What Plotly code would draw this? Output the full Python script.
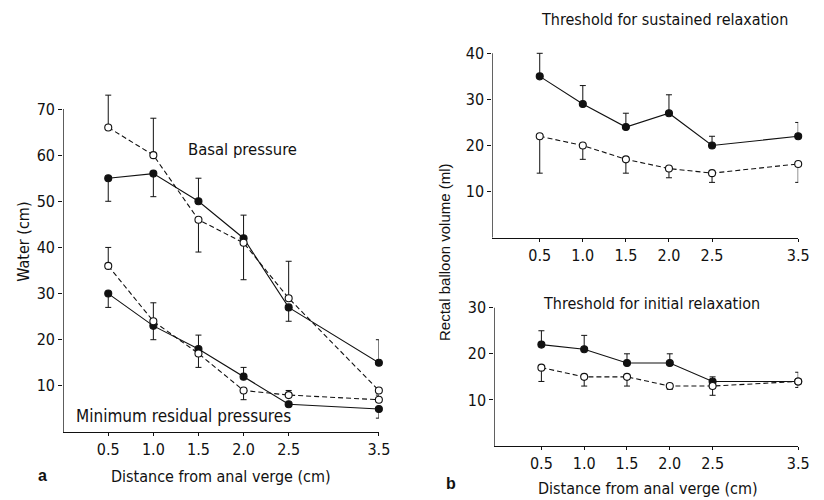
import plotly.graph_objects as go

# ---------------- data ----------------
x_pos = [0.5, 1.0, 1.5, 2.0, 2.5, 3.5]
x_ticklabels = ["0.5", "1.0", "1.5", "2.0", "2.5", "3.5"]

# Panel a - basal pressure
basal_open = [66, 60, 46, 41, 29, 9]
basal_open_up = [7, 8, 0, 0, 8, 0]
basal_open_down = [0, 0, 7, 8, 0, 0]
basal_filled = [55, 56, 50, 42, 27, 15]
basal_filled_up = [0, 0, 5, 5, 0, 5]
basal_filled_down = [5, 5, 0, 0, 3, 0]

# Panel a - minimum residual pressures
resid_open = [36, 24, 17, 9, 8, 7]
resid_open_up = [4, 4, 0, 0, 1, 1]
resid_open_down = [0, 0, 3, 2, 0, 0]
resid_filled = [30, 23, 18, 12, 6, 5]
resid_filled_up = [0, 0, 3, 2, 0, 0]
resid_filled_down = [3, 3, 0, 0, 0, 2]

# Panel b (top) - threshold for sustained relaxation
sust_filled = [35, 29, 24, 27, 20, 22]
sust_filled_up = [5, 4, 3, 4, 2, 3]
sust_open = [22, 20, 17, 15, 14, 16]
sust_open_down = [8, 3, 3, 2, 2, 4]
sig_x = [0.5, 1.0, 1.5, 2.0]

# Panel b (bottom) - threshold for initial relaxation
init_filled = [22, 21, 18, 18, 14, 14]
init_filled_up = [3, 3, 2, 2, 1, 2]
init_open = [17, 15, 15, 13, 13, 14]
init_open_down = [3, 2, 2, 0.7, 2, 1.3]

# ---------------- style ----------------
FONT = "Liberation Sans Narrow, DejaVu Sans Condensed, Arial Narrow, sans-serif"
SANS = "Liberation Sans, Arial, sans-serif"
BLACK = "#111111"

fig = go.Figure()


def add_series(x, y, up, down, filled, xa, ya):
    zeros = [0] * len(y)
    fig.add_trace(go.Scatter(
        x=x, y=y, xaxis=xa, yaxis=ya, mode="lines+markers",
        line=dict(color=BLACK, width=1.1, dash="solid" if filled else "5px,3px"),
        marker=dict(symbol="circle", size=7,
                    color=BLACK if filled else "white",
                    line=dict(color=BLACK, width=1.1)),
        error_y=dict(type="data", symmetric=False,
                     array=up if up is not None else zeros,
                     arrayminus=down if down is not None else zeros,
                     color=BLACK, thickness=1, width=3),
        cliponaxis=False, showlegend=False, hoverinfo="x+y"))


# panel a
add_series(x_pos, basal_filled, basal_filled_up, basal_filled_down, True, "x", "y")
add_series(x_pos, basal_open, basal_open_up, basal_open_down, False, "x", "y")
add_series(x_pos, resid_filled, resid_filled_up, resid_filled_down, True, "x", "y")
add_series(x_pos, resid_open, resid_open_up, resid_open_down, False, "x", "y")
# panel b top
add_series(x_pos, sust_filled, sust_filled_up, None, True, "x2", "y2")
add_series(x_pos, sust_open, None, sust_open_down, False, "x2", "y2")
# panel b bottom
add_series(x_pos, init_filled, init_filled_up, None, True, "x3", "y3")
add_series(x_pos, init_open, None, init_open_down, False, "x3", "y3")

# significance dots
fig.add_trace(go.Scatter(
    x=sig_x, y=[43.5] * len(sig_x), xaxis="x2", yaxis="y2", mode="markers",
    marker=dict(symbol="circle", size=4.5, color=BLACK),
    cliponaxis=False, showlegend=False, hoverinfo="skip"))

tickfont = dict(family=FONT, size=16, color=BLACK)

XR_A = [0, 3.5]
XR_B = [-0.05, 3.5]


def xaxis(domain, anchor, rng):
    return dict(domain=domain, anchor=anchor, range=rng,
                tickvals=x_pos, ticktext=x_ticklabels,
                showline=True, linecolor=BLACK, linewidth=1.3,
                ticks="outside", ticklen=3, tickcolor=BLACK, tickwidth=1,
                showgrid=False, zeroline=False, tickfont=tickfont)


def yaxis(domain, anchor, rng, vals):
    return dict(domain=domain, anchor=anchor, range=rng, tickvals=vals,
                showline=False,
                ticks="outside", ticklen=4, tickcolor=BLACK, tickwidth=1,
                showgrid=False, zeroline=False, tickfont=tickfont)


# pixel geometry -> domains with a little headroom for error caps
def ydom(bottom_px, top_px, top_val, extra):
    ppu = (bottom_px - top_px) / top_val
    return [1 - bottom_px / 500, 1 - (top_px - extra * ppu) / 500]


fig.update_layout(
    width=824, height=500,
    margin=dict(l=0, r=0, t=0, b=0),
    paper_bgcolor="white", plot_bgcolor="white",
    font=dict(family=FONT, color=BLACK),
    xaxis=xaxis([64 / 824, 384 / 824], "y", XR_A),
    yaxis=yaxis(ydom(432, 109, 70, 4), "x", [0, 74], [10, 20, 30, 40, 50, 60, 70]),
    xaxis2=xaxis([499 / 824, 809 / 824], "y2", XR_B),
    yaxis2=yaxis(ydom(237.7, 53.3, 40, 2), "x2", [0, 42], [10, 20, 30, 40]),
    xaxis3=xaxis([501 / 824, 809 / 824], "y3", XR_B),
    yaxis3=yaxis(ydom(446, 307.7, 30, 2), "x3", [0, 32], [10, 20, 30]),
)

# y axis lines drawn only up to the top tick
for xr, yr, top, x0 in (("x", "y", 70, XR_A[0]), ("x2", "y2", 40, XR_B[0]),
                        ("x3", "y3", 30, XR_B[0])):
    fig.add_shape(type="line", xref=xr, yref=yr, x0=x0, x1=x0, y0=0, y1=top,
                  line=dict(color=BLACK, width=1.3))


def ann(text, x, y, size=16, family=FONT, angle=0, bold=False):
    fig.add_annotation(
        text=f"<b>{text}</b>" if bold else text,
        x=x / 824, y=1 - y / 500, xref="paper", yref="paper",
        xanchor="center", yanchor="middle", showarrow=False, textangle=angle,
        font=dict(family=family, size=size, color=BLACK))


ann("Basal pressure", 246, 149, size=16.5)
ann("Minimum residual pressures", 186, 416, size=17)
ann("Water (cm)", 23, 242, angle=-90)
ann("Distance from anal verge (cm)", 224, 476)
ann("a", 43, 475, size=16, family=SANS, bold=True)

ann("Threshold for sustained relaxation", 673, 19, size=16)
ann("Threshold for initial relaxation", 660, 303, size=16)
ann("Rectal balloon volume (ml)", 450, 252, size=15, family=SANS, angle=-90)
ann("Distance from anal verge (cm)", 657, 488)
ann("b", 457, 483, size=16, family=SANS, bold=True)

fig.write_html("out.html")
